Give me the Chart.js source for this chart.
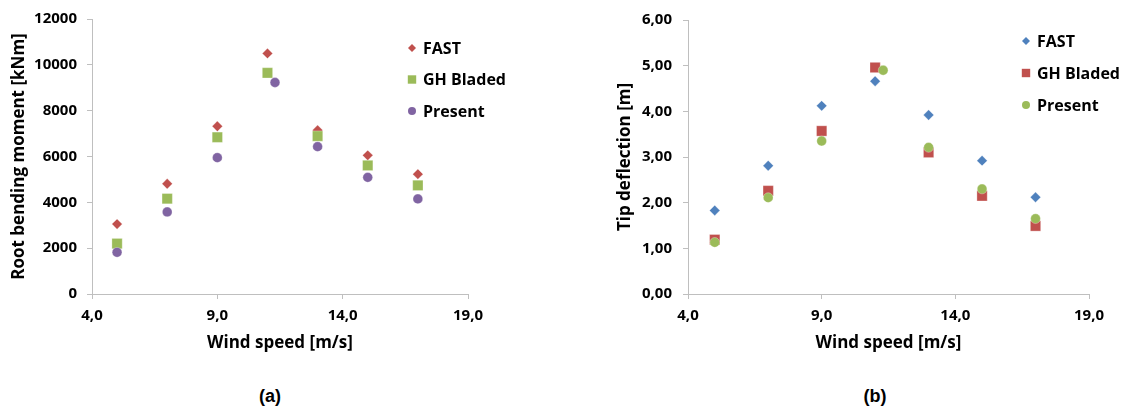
<!DOCTYPE html>
<html>
<head>
<meta charset="utf-8">
<script src="https://cdn.jsdelivr.net/npm/chart.js@4/dist/chart.umd.min.js"></script>
<style>
  html, body { margin: 0; padding: 0; background: #fff; }
  #wrap { position: relative; width: 1129px; height: 411px; overflow: hidden; }
  canvas { position: absolute; top: 0; }
  #chart-a { left: 0; }
  #chart-b { left: 600px; }
  .tag { position: absolute; top: 386px; font: bold 18px "Liberation Sans", Arial, sans-serif; color: #000; transform: translateX(-50%); }
</style>
</head>
<body>
<div id="wrap">
  <canvas id="chart-a" width="560" height="360"></canvas>
  <canvas id="chart-b" width="529" height="360"></canvas>
  <div class="tag" style="left:270px">(a)</div>
  <div class="tag" style="left:875px">(b)</div>
</div>
<script>
// vitesses de vent (m/s)
const windSpeed = [5, 7, 9, 11, 13, 15, 17];
const windSpeedPresent = [5, 7, 9, 11.3, 13, 15, 17];

// (a) moment à la racine [kNm]
const momentFast = [3050, 4810, 7320, 10500, 7150, 6050, 5230];
const momentBladed = [2200, 4160, 6840, 9650, 6890, 5610, 4740];
const momentPresent = [1820, 3580, 5950, 9230, 6430, 5090, 4150];

// (b) flèche en bout de pale [m]
const deflFast = [1.83, 2.81, 4.12, 4.66, 3.92, 2.92, 2.12];
const deflBladed = [1.19, 2.26, 3.57, 4.96, 3.10, 2.15, 1.49];
const deflPresent = [1.13, 2.11, 3.35, 4.90, 3.21, 2.30, 1.65];

const seriesNames = ['FAST', 'GH Bladed', 'Present'];
const xTicks = [4, 9, 14, 19];

const RED = '#C0504D', GREEN = '#9BBB59', PURPLE = '#8064A2', BLUE = '#4F81BD';
const AXIS = '#BFBFBF';
const FONT = '"Open Sans", "DejaVu Sans", sans-serif';

const pts = (xs, ys) => xs.map((x, i) => ({ x, y: ys[i] }));
const virgule = (v, d) => v.toFixed(d).replace('.', ',');

// petit marqueur pour la légende
function marqueur(ctx, style, r, x, y) {
  ctx.beginPath();
  if (style === 'rectRot') {
    ctx.moveTo(x - r, y); ctx.lineTo(x, y - r); ctx.lineTo(x + r, y); ctx.lineTo(x, y + r);
    ctx.closePath();
  } else if (style === 'rect') {
    ctx.rect(x - r, y - r, 2 * r, 2 * r);
  } else {
    ctx.arc(x, y, r, 0, Math.PI * 2);
  }
  ctx.fill();
}

const legendePlugin = {
  id: 'legende',
  afterDraw(chart, args, opts) {
    const { ctx, chartArea } = chart;
    ctx.save();
    ctx.font = 'bold 16px ' + FONT;
    ctx.textBaseline = 'middle';
    ctx.textAlign = 'left';
    chart.data.datasets.forEach((ds, i) => {
      const y = chartArea.top + opts.top + i * opts.gap;
      const mx = chartArea.right + opts.dx;
      ctx.fillStyle = ds.backgroundColor;
      const r = ds.pointStyle === 'rectRot' ? 4 : ds.pointStyle === 'rect' ? 4.2 : 4;
      marqueur(ctx, ds.pointStyle, r, mx, y);
      ctx.fillStyle = '#000';
      ctx.fillText(ds.label, mx + 11, y + 1);
    });
    ctx.restore();
  }
};

function jeu(label, data, color, style, order) {
  const radius = style === 'rectRot' ? 5.2 : style === 'rect' ? 7.3 : 4.9;
  return {
    label, data, order,
    backgroundColor: color,
    borderColor: 'rgba(255,255,255,0.6)',
    borderWidth: 0.5,
    pointStyle: style,
    pointRadius: radius,
    pointHoverRadius: radius,
    showLine: false
  };
}

function axes(yMin, yMax, yStep, yFmt, yTitle, yWidth, yTitlePad, yTickPad) {
  return {
    x: {
      type: 'linear', min: 4, max: 19,
      afterBuildTicks: (s) => { s.ticks = xTicks.map(v => ({ value: v })); },
      afterFit: (s) => { s.height = 66; },
      grid: { drawOnChartArea: false, color: AXIS, tickLength: 5 },
      border: { color: AXIS, width: 1 },
      ticks: { color: '#000', padding: 8, font: { family: FONT, size: 15, weight: 'bold' },
               callback: (v) => virgule(v, 1) },
      title: { display: true, text: 'Wind speed [m/s]', color: '#000',
               font: { family: FONT, size: 17, weight: 'bold' }, padding: { top: 0, bottom: 7 } }
    },
    y: {
      type: 'linear', min: yMin, max: yMax,
      afterFit: (s) => { s.width = yWidth; },
      grid: { drawOnChartArea: false, color: AXIS, tickLength: 5 },
      border: { color: AXIS, width: 1 },
      ticks: { stepSize: yStep, color: '#000', padding: yTickPad,
               font: { family: FONT, size: 15, weight: 'bold' }, callback: yFmt },
      title: { display: true, text: yTitle, color: '#000',
               font: { family: FONT, size: 17, weight: 'bold' }, padding: { top: yTitlePad, bottom: 0 } }
    }
  };
}

new Chart(document.getElementById('chart-a'), {
  type: 'scatter',
  data: {
    datasets: [
      jeu(seriesNames[0], pts(windSpeed, momentFast), RED, 'rectRot', 3),
      jeu(seriesNames[1], pts(windSpeed, momentBladed), GREEN, 'rect', 2),
      jeu(seriesNames[2], pts(windSpeedPresent, momentPresent), PURPLE, 'circle', 1)
    ]
  },
  options: {
    responsive: false, animation: false,
    layout: { padding: { top: 19, right: 92, left: 0, bottom: 0 } },
    scales: axes(0, 12000, 2000, (v) => String(v), 'Root bending moment [kNm]', 92, 9, 10),
    plugins: { legend: { display: false }, tooltip: { enabled: false },
               legende: { dx: -56, top: 29, gap: 31.5 } }
  },
  plugins: [legendePlugin]
});

new Chart(document.getElementById('chart-b'), {
  type: 'scatter',
  data: {
    datasets: [
      jeu(seriesNames[0], pts(windSpeed, deflFast), BLUE, 'rectRot', 3),
      jeu(seriesNames[1], pts(windSpeed, deflBladed), RED, 'rect', 2),
      jeu(seriesNames[2], pts(windSpeedPresent, deflPresent), GREEN, 'circle', 1)
    ]
  },
  options: {
    responsive: false, animation: false,
    layout: { padding: { top: 18, right: 40, left: 0, bottom: 0 } },
    scales: axes(0, 6, 1, (v) => virgule(v, 2), 'Tip deflection [m]', 88, 15, 11),
    plugins: { legend: { display: false }, tooltip: { enabled: false },
               legende: { dx: -63, top: 21, gap: 32 } }
  },
  plugins: [legendePlugin]
});
</script>
</body>
</html>
